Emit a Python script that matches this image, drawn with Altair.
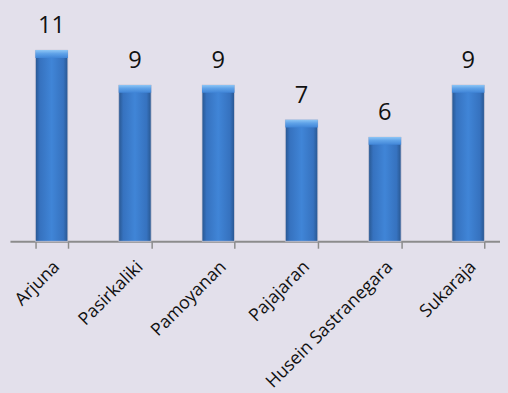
import altair as alt
import pandas as pd
import jinja2
from altair.utils.html import TEMPLATES

categories = ["Arjuna", "Pasirkaliki", "Pamoyanan", "Pajajaran", "Husein Sastranegara", "Sukaraja"]
values = [11, 9, 9, 7, 6, 9]

df = pd.DataFrame({"kategori": categories, "nilai": values})

bg = "#e3e0eb"

x = alt.X("kategori:N", sort=categories,
          scale=alt.Scale(range=[0, 508], paddingInner=0.61, paddingOuter=0.305),
          axis=alt.Axis(title=None, labelAngle=-45, labelAlign="right", labelBaseline="middle",
                        labelFont="Open Sans", labelFontSize=18, labelColor="#111111",
                        labelPadding=16, labelOffset=5,
                        domainColor="#8c8c8c", domainWidth=2, tickColor="#8c8c8c",
                        tickWidth=1.5, tickSize=7, tickBand="extent", labelOverlap=False))
y = alt.Y("nilai:Q", scale=alt.Scale(domain=[0, 12], nice=False), axis=None)

body_grad = alt.Gradient(
    gradient="linear", x1=0, x2=1, y1=0, y2=0,
    stops=[alt.GradientStop(color="#28568f", offset=0),
           alt.GradientStop(color="#3672bf", offset=0.14),
           alt.GradientStop(color="#4085d7", offset=0.5),
           alt.GradientStop(color="#3672bf", offset=0.86),
           alt.GradientStop(color="#28568f", offset=1)])

bars = alt.Chart(df).mark_bar(fill=body_grad, stroke="#cfcbd9", strokeWidth=0.8).encode(x=x, y=y)

cap_grad = alt.Gradient(
    gradient="linear", x1=0, x2=0, y1=0, y2=1,
    stops=[alt.GradientStop(color="#8ec6f5", offset=0),
           alt.GradientStop(color="#5fa2e8", offset=0.45),
           alt.GradientStop(color="#4085d7", offset=1)])

caps = alt.Chart(df).transform_calculate(
    capbot="datum.nilai - 0.45"
).mark_bar(fill=cap_grad).encode(
    x=alt.X("kategori:N", sort=categories),
    y=alt.Y("nilai:Q"),
    y2=alt.Y2("capbot:Q"))

labels = alt.Chart(df).mark_text(
    font="Open Sans", fontSize=24, color="#111111", baseline="alphabetic", dy=-17
).encode(x=alt.X("kategori:N", sort=categories), y=alt.Y("nilai:Q"), text=alt.Text("nilai:Q"))

chart = alt.layer(bars, caps, labels).properties(
    width=498, height=212,
    autosize=alt.AutoSizeParams(type="none"),
    padding={"left": 2, "top": 22, "right": 0, "bottom": 151},
    background=bg
).configure_view(stroke=None)

_base = TEMPLATES["standard"]


class BgTemplate(jinja2.Template):
    def render(self, *args, **kwargs):
        html = _base.render(*args, **kwargs)
        return html.replace("<head>", "<head><style>html,body{background:" + bg + ";}</style>", 1)


try:
    chart.save("out.html", embed_options={"renderer": "svg", "actions": False},
               template=BgTemplate(""))
except Exception:
    chart.save("out.html", embed_options={"renderer": "svg", "actions": False})
